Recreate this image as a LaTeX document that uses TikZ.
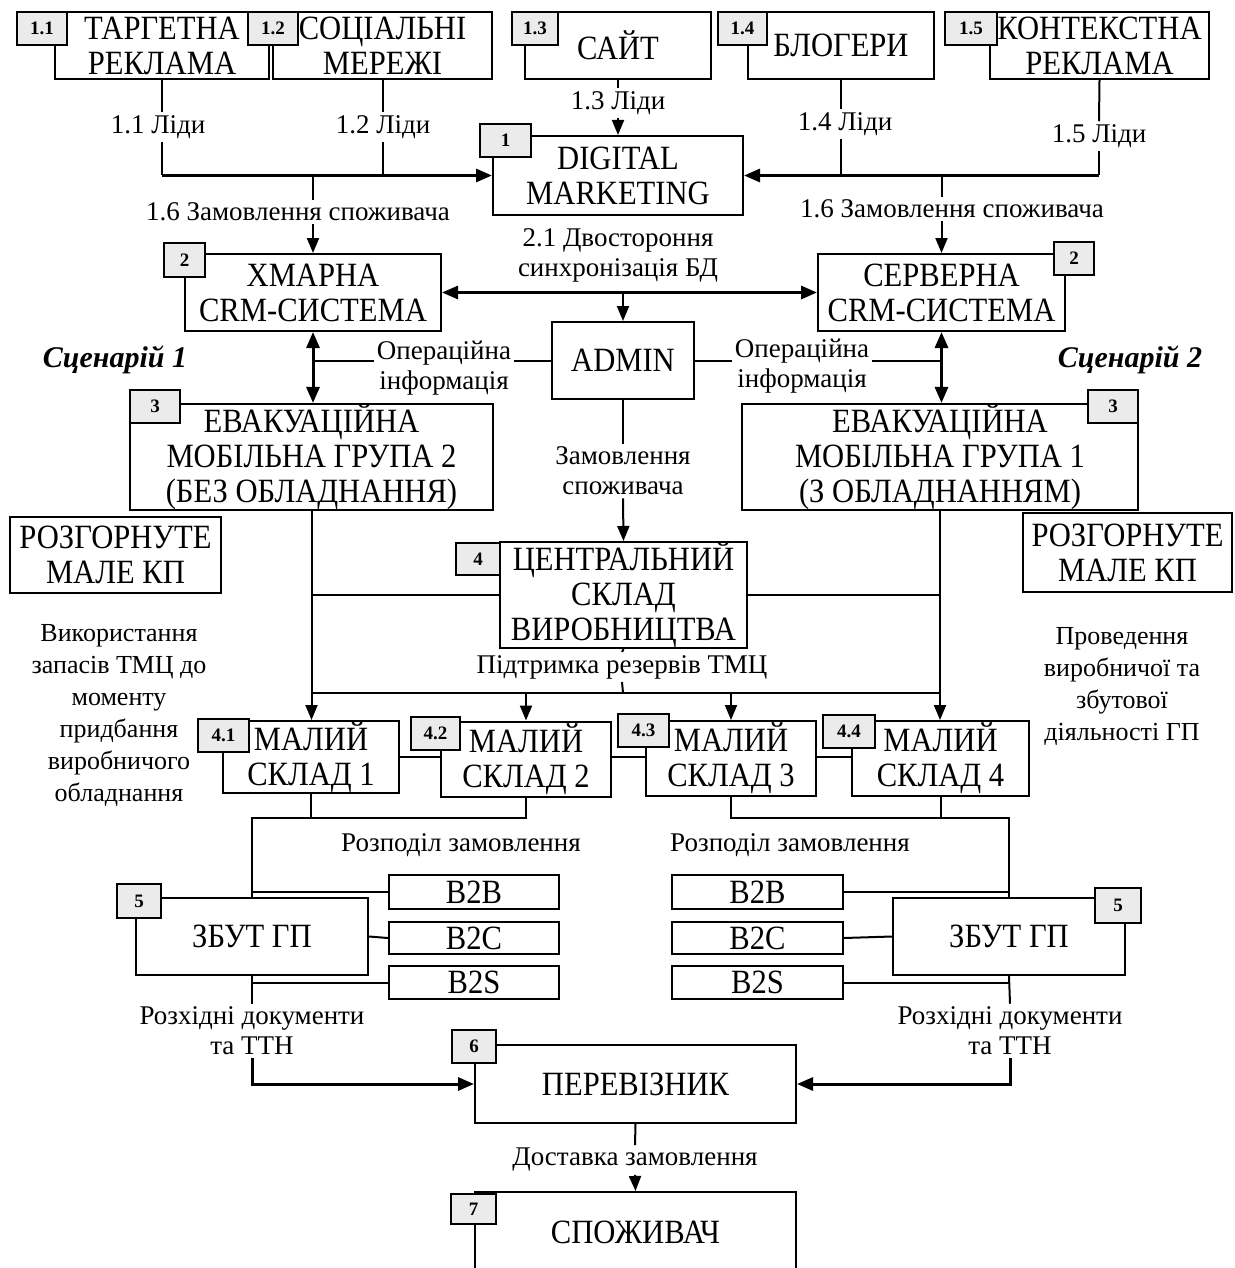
\documentclass[tikz,border=0pt]{standalone}
\usepackage{fontspec}
\setmainfont{Liberation Serif}
\newfontfamily\boxfont[FakeStretch=0.9]{Liberation Serif}
\usetikzlibrary{arrows.meta}
\tikzset{
	box/.style={draw, line width=2pt, inner sep=0pt, align=center, font=\boxfont\fontsize{34}{35}\selectfont},
	tag/.style={draw, fill=black!8, line width=2pt, inner sep=0pt, minimum width=46pt, minimum height=33pt, font=\bfseries\fontsize{19}{20}\selectfont},
	lbl/.style={inner sep=3pt, align=center, font=\fontsize{27}{30}\selectfont},
	side/.style={inner sep=0pt, align=center, font=\fontsize{26}{32}\selectfont},
	scen/.style={inner sep=0pt, font=\bfseries\itshape\fontsize{30}{30}\selectfont},
	ln/.style={line width=2pt},
	thk/.style={line width=3pt},
	arr/.style={ln, -{Triangle[length=15pt,width=12pt]}},
	tkarr/.style={thk, -{Triangle[length=16pt,width=13pt]}},
	tkdarr/.style={thk, {Triangle[length=16pt,width=13pt]}-{Triangle[length=16pt,width=13pt]}},
}

\begin{document}
\begin{tikzpicture}[x=1pt, y=-1pt]
		\clip (0,0) rectangle (1234,1268);
		\fill[white] (0,0) rectangle (1234,1268);
		
		%%%%% LEADS %%%%%
		\node[box, minimum width=214pt, minimum height=67pt] (t11) at (162,45.5) {ТАРГЕТНА\\РЕКЛАМА};
		\node[box, minimum width=219pt, minimum height=67pt] (t12) at (382.5,45.5) {СОЦІАЛЬНІ\\МЕРЕЖІ};
		\node[box, minimum width=186pt, minimum height=67pt] (t13) at (618,45.5) {САЙТ};
		\node[box, minimum width=186pt, minimum height=67pt] (t14) at (841,45.5) {БЛОГЕРИ};
		\node[box, minimum width=219pt, minimum height=67pt] (t15) at (1099.5,45.5) {КОНТЕКСТНА\\РЕКЛАМА};
		\node[tag, minimum width=50pt] (g11) at (42,28.5) {1.1};
		\node[tag, minimum width=50pt] (g12) at (273,28.5) {1.2};
		\node[tag] (g13) at (535,28.5) {1.3};
		\node[tag, minimum width=49pt] (g14) at (742.5,28.5) {1.4};
		\node[tag, minimum width=52pt] (g15) at (971,28.5) {1.5};
		
		\node[box, minimum width=250pt, minimum height=79pt] (dm) at (618,175.5) {DIGITAL\\MARKETING};
		\node[tag, minimum width=51pt] (g1) at (505.5,140.5) {1};
		
		\node[lbl] (l11) at (158,127) {1.1 Ліди};
		\node[lbl] (l12) at (383,127) {1.2 Ліди};
		\node[lbl] (l13) at (618,103) {1.3 Ліди};
		\node[lbl] (l14) at (845,124) {1.4 Ліди};
		\node[lbl] (l15) at (1099,136) {1.5 Ліди};
		
		\draw[ln] (t11.south) -- (t11.south |- l11.north);
		\draw[ln] (t11.south |- l11.south) -- (t11.south |- dm.west);
		\draw[tkarr] (t11.south |- dm.west) -- (dm.west);
		\draw[ln] (t12.south) -- (t12.south |- l12.north);
		\draw[ln] (t12.south |- l12.south) -- (t12.south |- dm.west);
		\draw[ln] (t13.south) -- (l13.north);
		\draw[arr] (l13.south) -- (dm.north);
		\draw[ln] (t14.south) -- (t14.south |- l14.north);
		\draw[ln] (t14.south |- l14.south) -- (t14.south |- dm.east);
		\draw[ln] (t15.south) -- (l15.north);
		\draw[ln] (l15.south) -- (l15.south |- dm.east);
		\draw[tkarr] (l15.south |- dm.east) -- (dm.east);
		
		%%%%% CRM %%%%%
		\node[box, minimum width=256pt, minimum height=77pt] (crm1) at (313,292.5) {ХМАРНА\\CRM-СИСТЕМА};
		\node[box, minimum width=247pt, minimum height=77pt] (crm2) at (941.5,292.5) {СЕРВЕРНА\\CRM-СИСТЕМА};
		\node[tag, minimum width=41pt, minimum height=34pt] (g2a) at (184.5,260) {2};
		\node[tag, minimum width=40pt] (g2b) at (1074,258.5) {2};
		\node[box, minimum width=142pt, minimum height=77pt] (adm) at (623,360.5) {ADMIN};
		
		\node[lbl] (l16a) at (298,212) {1.6 Замовлення споживача};
		\node[lbl] (l16b) at (952,209) {1.6 Замовлення споживача};
		\node[lbl] (l21) at (618,255) {2.1 Двостороння\\синхронізація БД};
		
		\draw[ln] (crm1.north |- dm.west) -- (crm1.north |- l16a.north);
		\draw[arr] (crm1.north |- l16a.south) -- (crm1.north);
		\draw[ln] (crm2.north |- dm.east) -- (crm2.north |- l16b.north);
		\draw[arr] (crm2.north |- l16b.south) -- (crm2.north);
		\draw[tkdarr] (crm1.east) -- (crm2.west);
		\draw[arr] (adm.north |- crm1.east) -- (adm.north);
		
		%%%%% SCENARIOS %%%%%
		\node[scen] (sc1) at (115,360) {Сценарій 1};
		\node[scen] (sc2) at (1130,360) {Сценарій 2};
		\node[box, minimum width=363pt, minimum height=106pt] (ev2) at (311.5,457) {ЕВАКУАЦІЙНА\\МОБІЛЬНА ГРУПА 2\\(БЕЗ ОБЛАДНАННЯ)};
		\node[box, minimum width=396pt, minimum height=106pt] (ev1) at (940,457) {ЕВАКУАЦІЙНА\\МОБІЛЬНА ГРУПА 1\\(З ОБЛАДНАННЯМ)};
		\node[tag, minimum width=50pt] (g3a) at (155,406.5) {3};
		\node[tag, minimum width=50pt] (g3b) at (1113,406) {3};
		\node[lbl] (lo1) at (444,368) {Операційна\\інформація};
		\node[lbl] (lo2) at (802,366) {Операційна\\інформація};
		
		\draw[tkdarr] (crm1.south) -- (crm1.south |- ev2.north);
		\draw[tkdarr] (crm2.south) -- (crm2.south |- ev1.north);
		\draw[ln] (adm.west) -- (lo1.east |- adm.west);
		\draw[ln] (lo1.west |- adm.west) -- (crm1.south |- adm.west);
		\draw[ln] (adm.east) -- (lo2.west |- adm.east);
		\draw[ln] (lo2.east |- adm.east) -- (crm2.south |- adm.east);
		
		\node[box, minimum width=211pt, minimum height=76pt] (kp1) at (115.5,555) {РОЗГОРНУТЕ\\МАЛЕ КП};
		\node[box, minimum width=209pt, minimum height=79pt] (kp2) at (1127.5,552.5) {РОЗГОРНУТЕ\\МАЛЕ КП};
		
		%%%%% WAREHOUSES %%%%%
		\node[lbl] (lz) at (623,471) {Замовлення\\споживача};
		\node[box, minimum width=247pt, minimum height=104pt] (cs) at (623.5,595) {ЦЕНТРАЛЬНИЙ\\СКЛАД\\ВИРОБНИЦТВА};
		\node[tag, minimum width=44pt, minimum height=32pt] (g4) at (478,559) {4};
		\node[lbl] (lp) at (622,667) {Підтримка резервів ТМЦ};
		\coordinate (hb) at (623,693);
		
		\draw[ln] (adm.south) -- (lz.north);
		\draw[arr] (lz.south) -- (cs.north);
		\draw[ln] (cs.south) -- (lp.north);
		\draw[ln] (lp.south) -- (hb);
		
		\node[box, minimum width=176pt, minimum height=72pt] (ms1) at (311,757) {МАЛИЙ\\СКЛАД 1};
		\node[box, minimum width=170pt, minimum height=75pt] (ms2) at (526,759) {МАЛИЙ\\СКЛАД 2};
		\node[box, minimum width=170pt, minimum height=75pt] (ms3) at (731,758.5) {МАЛИЙ\\СКЛАД 3};
		\node[box, minimum width=177pt, minimum height=75pt] (ms4) at (940.5,758.5) {МАЛИЙ\\СКЛАД 4};
		\node[tag, minimum width=51pt] (g41) at (223.5,735.5) {4.1};
		\node[tag, minimum width=49pt] (g42) at (435.5,733.5) {4.2};
		\node[tag, minimum width=51pt] (g43) at (643.5,730.5) {4.3};
		\node[tag, minimum width=52pt] (g44) at (849,731.5) {4.4};
		
		\draw[arr] (ev2.south) -- (ev2.south |- ms1.north);
		\draw[arr] (ev1.south) -- (ev1.south |- ms4.north);
		\draw[ln] (cs.west) -- (ev2.south |- cs.west);
		\draw[ln] (cs.east) -- (ev1.south |- cs.east);
		\draw[ln] (ev2.south |- hb) -- (ev1.south |- hb);
		\draw[arr] (ms2.north |- hb) -- (ms2.north);
		\draw[arr] (ms3.north |- hb) -- (ms3.north);
		\draw[ln] (ms1.east) -- (ms1.east -| ms2.west);
		\draw[ln] (ms2.east |- ms1.east) -- (ms1.east -| ms3.west);
		\draw[ln] (ms3.east |- ms1.east) -- (ms1.east -| ms4.west);
		
		\node[side] (us1) at (119,715) {Використання\\запасів ТМЦ до\\моменту\\придбання\\виробничого\\обладнання};
		\node[side] (us2) at (1122,686) {Проведення\\виробничої та\\збутової\\діяльності ГП};
		
		%%%%% SALES %%%%%
		\coordinate (jl) at (252,818);
		\coordinate (jr) at (1009,818);
		\node[lbl] (rp1) at (461,845) {Розподіл замовлення};
		\node[lbl] (rp2) at (790,845) {Розподіл замовлення};
		
		\node[box, minimum width=232pt, minimum height=77pt] (zb1) at (252,936.5) {ЗБУТ ГП};
		\node[box, minimum width=232pt, minimum height=77pt] (zb2) at (1009,936.5) {ЗБУТ ГП};
		\node[tag, minimum width=44pt, minimum height=34pt] (g5a) at (139,901) {5};
		\node[tag, minimum width=46pt, minimum height=35pt] (g5b) at (1118,905.5) {5};
		\node[box, minimum width=170pt, minimum height=34pt] (bb1) at (474,892) {B2B};
		\node[box, minimum width=170pt, minimum height=32pt] (bc1) at (474,938) {B2C};
		\node[box, minimum width=170pt, minimum height=33pt] (bs1) at (474,982.5) {B2S};
		\node[box, minimum width=171pt, minimum height=34pt] (bb2) at (757.5,892) {B2B};
		\node[box, minimum width=171pt, minimum height=32pt] (bc2) at (757.5,938) {B2C};
		\node[box, minimum width=171pt, minimum height=33pt] (bs2) at (757.5,982.5) {B2S};
		
		\draw[ln] (ms1.south) -- (ms1.south |- jl);
		\draw[ln] (ms2.south) |- (jl) -- (zb1.north);
		\draw[ln] (ms4.south) -- (ms4.south |- jr);
		\draw[ln] (ms3.south) |- (jr) -- (zb2.north);
		\draw[ln] (bb1.west) -- (zb1.north |- bb1.west);
		\draw[ln] (zb1.east) -- (bc1.west);
		\draw[ln] (bs1.west) -- (zb1.south |- bs1.west);
		\draw[ln] (bb2.east) -- (zb2.north |- bb2.east);
		\draw[ln] (zb2.west) -- (bc2.east);
		\draw[ln] (bs2.east) -- (zb2.south |- bs2.east);
		
		%%%%% DELIVERY %%%%%
		\node[lbl] (rd1) at (252,1031) {Розхідні документи\\та ТТН};
		\node[lbl] (rd2) at (1010,1031) {Розхідні документи\\та ТТН};
		\node[box, minimum width=321pt, minimum height=78pt] (pv) at (635.5,1084) {ПЕРЕВІЗНИК};
		\node[tag, minimum width=44pt] (g6) at (474,1046.5) {6};
		\node[lbl] (ld) at (635,1160) {Доставка замовлення};
		\node[box, minimum width=321pt, minimum height=80pt] (sp) at (635.5,1232) {СПОЖИВАЧ};
		\node[tag, minimum width=45pt, minimum height=30pt] (g7) at (473.5,1209) {7};
		
		\draw[ln] (zb1.south) -- (rd1.north);
		\draw[tkarr] (rd1.south) |- (pv.west);
		\draw[ln] (zb2.south) -- (rd2.north);
		\draw[tkarr] (rd2.south) |- (pv.east);
		\draw[ln] (pv.south) -- (ld.north);
		\draw[arr] (ld.south) -- (sp.north);
		
		%%%%% END %%%%%
\end{tikzpicture}
\end{document}
